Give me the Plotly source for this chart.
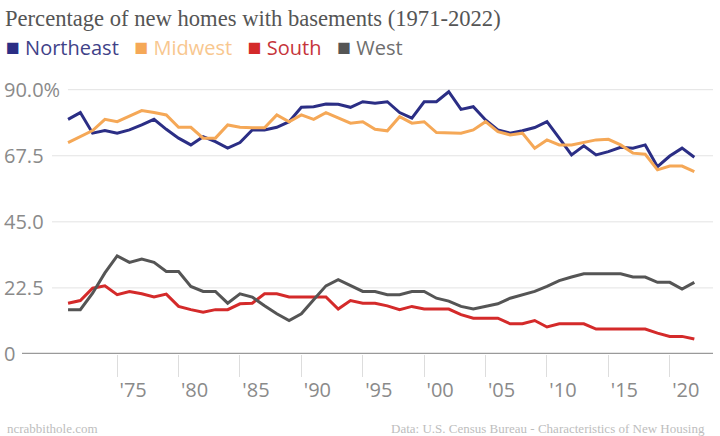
import plotly.graph_objects as go

# Share of new single-family homes built with a basement, by census region
years = list(range(1971, 2023))

northeast = [79.9, 82.2, 75.2, 76.1, 75.2, 76.3, 78.0, 79.9, 76.5, 73.5,
             71.2, 74.0, 72.3, 70.1, 72.0, 76.3, 76.3, 77.2, 79.1, 84.0,
             84.2, 85.1, 85.0, 84.0, 85.9, 85.4, 85.9, 82.2, 80.3, 85.9,
             85.9, 89.3, 83.3, 84.2, 79.7, 76.3, 75.2, 76.0, 77.1, 79.1,
             73.5, 67.8, 70.9, 67.8, 68.9, 70.4, 70.1, 71.2, 63.8, 67.4,
             70.1, 67.0]
midwest = [72.0, 74.0, 76.1, 79.9, 79.1, 81.0, 82.9, 82.2, 81.4, 77.2,
           77.2, 73.5, 73.5, 78.0, 77.2, 77.0, 77.0, 81.4, 79.1, 81.4,
           79.9, 82.2, 80.3, 78.6, 79.1, 76.5, 76.0, 80.8, 78.6, 79.1,
           75.4, 75.2, 75.2, 76.3, 79.1, 75.7, 74.6, 75.2, 70.1, 72.9,
           71.2, 71.2, 72.0, 72.9, 73.1, 71.2, 68.4, 68.0, 62.7, 64.0,
           64.0, 62.1]
south = [17.3, 18.2, 22.4, 23.2, 20.2, 21.3, 20.5, 19.4, 20.4, 16.2,
         15.1, 14.2, 15.1, 15.1, 17.1, 17.3, 20.5, 20.5, 19.4, 19.4,
         19.4, 19.4, 15.3, 18.2, 17.3, 17.3, 16.4, 15.1, 16.2, 15.3,
         15.3, 15.3, 13.4, 12.2, 12.2, 12.2, 10.3, 10.3, 11.4, 9.2,
         10.3, 10.3, 10.3, 8.5, 8.5, 8.5, 8.5, 8.5, 7.1, 6.0,
         6.0, 5.1]
west = [15.1, 15.1, 20.7, 27.6, 33.4, 31.2, 32.3, 31.2, 28.1, 28.1,
        23.0, 21.3, 21.3, 17.3, 20.5, 19.4, 16.4, 13.7, 11.4, 13.7,
        18.5, 23.2, 25.3, 23.2, 21.3, 21.3, 20.2, 20.2, 21.3, 21.3,
        19.0, 18.0, 16.2, 15.3, 16.2, 17.1, 19.0, 20.2, 21.3, 23.0,
        25.0, 26.2, 27.3, 27.3, 27.3, 27.3, 26.2, 26.2, 24.4, 24.4,
        22.1, 24.4]

regions = ["Northeast", "Midwest", "South", "West"]
series = [northeast, midwest, south, west]
line_colors = ["#2b2e85", "#f5a857", "#d42a2a", "#555555"]
label_colors = ["#3f4288", "#f8c78f", "#c6343a", "#6e6e6e"]

x_ticks = list(range(1975, 2021, 5))
x_labels = ["'" + str(y)[2:] for y in x_ticks]
y_ticks = [0, 22.5, 45, 67.5, 90]
y_labels = ["0", "22.5", "45.0", "67.5", "90.0%"]
grid_start = [0.0295, 0.0716, 0.0716, 0.0716, 0.094]  # gridlines begin right of their labels

fig = go.Figure()
for name, vals, col in zip(regions, series, line_colors):
    fig.add_trace(go.Scatter(x=years, y=vals, name=name, mode="lines",
                             line=dict(color=col, width=3), showlegend=False))

# gridlines stop short of the labels, like the original
for v, x0 in zip(y_ticks, grid_start):
    if v == 0:
        fig.add_shape(type="line", xref="paper", yref="y", x0=x0, x1=1, y0=v, y1=v,
                      line=dict(color="#9a9a9a", width=2.5), layer="above")
    else:
        fig.add_shape(type="line", xref="paper", yref="y", x0=x0, x1=1, y0=v, y1=v,
                      line=dict(color="#e3e3e3", width=1), layer="below")

legend_html = "&nbsp;&nbsp;&nbsp;".join(
    f"<span style='color:{c};font-size:23px'>■</span>&nbsp;<span style='color:{t}'>{n}</span>"
    for n, c, t in zip(regions, line_colors, label_colors))
fig.add_annotation(text=legend_html, xref="paper", yref="paper", x=0, y=1,
                   xanchor="left", yanchor="middle", yshift=29, xshift=3,
                   showarrow=False, font=dict(family="Open Sans", size=20))

fig.add_annotation(text="ncrabbithole.com", xref="paper", yref="paper", x=0, y=0,
                   xanchor="left", yanchor="middle", yshift=-74, xshift=4,
                   showarrow=False,
                   font=dict(family="Liberation Serif", size=13, color="#bdbdbd"))
fig.add_annotation(text="Data: U.S. Census Bureau - Characteristics of New Housing",
                   xref="paper", yref="paper", x=1, y=0, xanchor="right",
                   yanchor="middle", yshift=-74, xshift=-6, showarrow=False,
                   font=dict(family="Liberation Serif", size=13, color="#bdbdbd"))

fig.update_layout(
    width=720, height=436,
    margin=dict(l=1, r=7, t=75, b=82),
    paper_bgcolor="white", plot_bgcolor="white",
    title=dict(text="Percentage of new homes with basements (1971-2022)",
               x=5 / 720, xanchor="left", xref="container",
               y=1 - 18 / 436, yanchor="middle", yref="container",
               font=dict(family="Liberation Serif", size=22.6, color="#555555")),
    font=dict(family="Open Sans", color="#8a8a8a", size=20),
)
fig.update_xaxes(range=[1965.54, 2023.52], tickvals=x_ticks, ticktext=x_labels,
                 showgrid=False, zeroline=False, showline=False,
                 ticks="outside", ticklen=22, tickcolor="#dddddd", tickwidth=1,
                 ticklabelshift=16, ticklabelstandoff=-4,
                 tickfont=dict(family="Open Sans", size=20, color="#8a8a8a"))
fig.update_yaxes(range=[0, 95], tickvals=y_ticks, ticktext=y_labels,
                 showgrid=False, zeroline=False, showline=False,
                 ticklabelposition="inside", ticks="", ticklabeloverflow="allow",
                 tickfont=dict(family="Open Sans", size=20, color="#8a8a8a"))

# the page body has an 8px default margin; drop it so the chart sits at the corner
fig.write_html("out.html", config={"displayModeBar": False},
               post_script="document.body.style.margin='0px';")
